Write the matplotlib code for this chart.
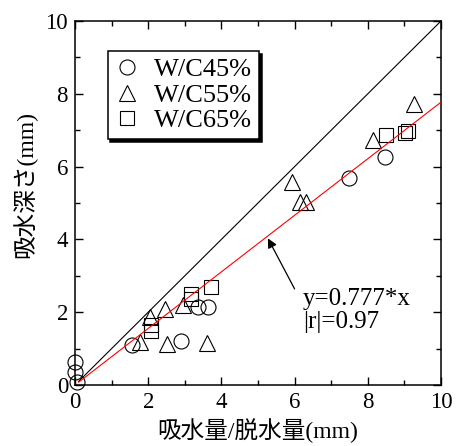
import matplotlib
matplotlib.use("Agg")
import matplotlib.pyplot as plt
from matplotlib.ticker import MultipleLocator
import numpy as np

# ---- data ----
c45_x = [0.0, 0.0, 0.05, 1.57, 2.90, 3.35, 3.63, 7.49, 8.47]
c45_y = [0.63, 0.36, 0.08, 1.10, 1.21, 2.13, 2.15, 5.68, 6.27]

c55_x = [1.77, 2.05, 2.47, 2.50, 2.94, 3.60, 5.94, 6.14, 6.32, 8.13, 9.26]
c55_y = [1.19, 1.88, 2.08, 1.14, 2.20, 1.16, 5.59, 5.04, 5.04, 6.73, 7.72]

c65_x = [2.07, 2.07, 3.16, 3.18, 3.72, 8.51, 9.01, 9.10]
c65_y = [1.49, 1.65, 2.35, 2.50, 2.70, 6.87, 6.93, 6.99]

labels = ["W/C45%", "W/C55%", "W/C65%"]
slope = 0.777
r_abs = 0.97
line_x = [0.1, 10.0]

serif = ["Liberation Serif", "DejaVu Serif"]
cjk = ["Liberation Serif", "Noto Sans CJK JP", "DejaVu Sans"]

plt.rcParams["font.family"] = serif

W, H = 457, 446
fig = plt.figure(figsize=(W / 100, H / 100), dpi=100)
ax = fig.add_axes([75 / W, (H - 385) / H, (441 - 75) / W, (385 - 21) / H])

# lines
ax.plot(line_x, line_x, color="black", lw=0.8, zorder=2)
ax.plot(line_x, [slope * v for v in line_x], color="red", lw=0.8, zorder=4)

mk = dict(linestyle="none", markerfacecolor="none", markeredgecolor="black",
          markeredgewidth=0.8, zorder=3, clip_on=False)
ax.plot(c45_x, c45_y, marker="o", ms=10.8, label=labels[0], **mk)
ax.plot(c55_x, c55_y, marker="^", ms=11.5, label=labels[1], **mk)
ax.plot(c65_x, c65_y, marker="s", ms=10.5, label=labels[2], **mk)

ax.set_xlim(0, 10)
ax.set_ylim(0, 10)
ax.xaxis.set_major_locator(MultipleLocator(2))
ax.yaxis.set_major_locator(MultipleLocator(2))
ax.xaxis.set_minor_locator(MultipleLocator(1))
ax.yaxis.set_minor_locator(MultipleLocator(1))
ax.tick_params(which="both", direction="in", top=True, right=True, width=1.0)
ax.tick_params(which="major", length=6, labelsize=16.5, pad=5)
ax.tick_params(which="minor", length=3.3)
for s in ax.spines.values():
    s.set_linewidth(1.1)

ax.set_xlabel("吸水量/脱水量(mm)", family=cjk, fontsize=17, labelpad=4)
fig.text(25 / W, 1 - 185 / H, "吸水深さ(mm)", family=cjk, fontsize=17,
         rotation=90, ha="center", va="center")

leg = ax.legend(loc="upper left", bbox_to_anchor=(0.089, 0.918), borderaxespad=0,
                fancybox=False, edgecolor="black", framealpha=1,
                shadow={"color": "black", "alpha": 1},
                fontsize=19, labelspacing=0.07, handlelength=0.9,
                handletextpad=0.6, borderpad=0.27)
leg.get_frame().set_linewidth(1.1)

# annotation
ax.annotate("", xy=(5.27, 4.03), xytext=(6.0, 2.64),
            arrowprops=dict(arrowstyle="-|>", color="black", lw=0.9,
                            mutation_scale=14, shrinkA=0, shrinkB=0))
ax.text(6.22, 2.20, f"y={slope}*x", fontsize=18, va="baseline", ha="left")
ax.text(6.22, 1.57, f"|r|={r_abs}", fontsize=18, va="baseline", ha="left")

fig.savefig("out.png", dpi=100)
